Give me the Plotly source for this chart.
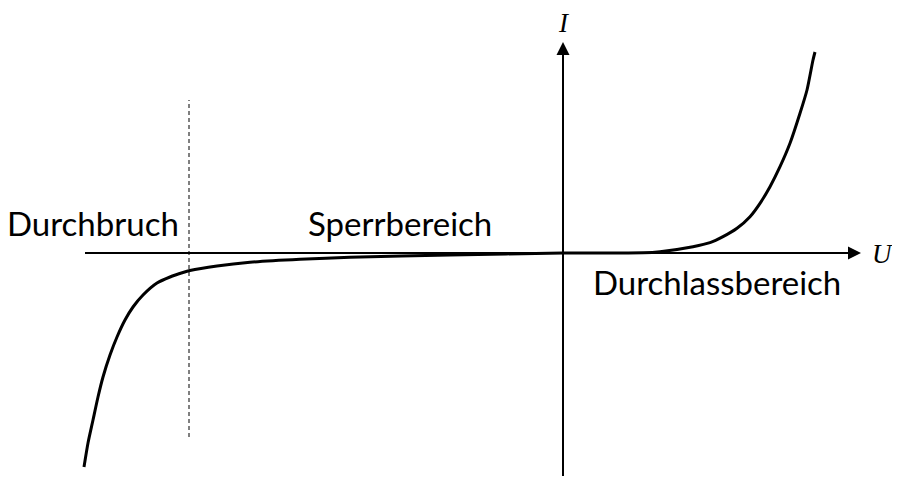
import plotly.graph_objects as go

# Diode characteristic (U and I in arbitrary units)
U_vals = [-4.79, -4.75, -4.70, -4.65, -4.60, -4.53, -4.46, -4.38, -4.30, -4.20, -4.06, -3.93, -3.80,
          -3.73, -3.46, -3.13, -2.63, -2.13, -1.13, 0.0,
          0.80, 0.97, 1.30, 1.47, 1.60, 1.74, 1.87, 1.97, 2.07, 2.17, 2.27, 2.37, 2.44, 2.50, 2.52]
I_vals = [-2.14, -1.90, -1.67, -1.44, -1.24, -1.02, -0.84, -0.67, -0.54, -0.42, -0.30, -0.24, -0.195,
          -0.175, -0.13, -0.093, -0.063, -0.043, -0.02, 0.0,
          0.002, 0.013, 0.063, 0.103, 0.163, 0.247, 0.363, 0.497, 0.663, 0.863, 1.097, 1.397, 1.63, 1.93, 2.01]

breakdown_U = -3.74
breakdown_I_range = [-1.84, 1.53]

region_labels = ["Durchbruch", "Sperrbereich", "Durchlassbereich"]
region_U = [-4.70, -1.63, 1.54]
region_I = [0.30, 0.30, -0.29]

fig = go.Figure()

# dashed breakdown line
fig.add_trace(go.Scatter(x=[breakdown_U, breakdown_U], y=breakdown_I_range, mode="lines",
                         line=dict(color="black", width=1, dash="4px,3px"), hoverinfo="skip"))

# axes lines
fig.add_trace(go.Scatter(x=[-4.78, 2.88], y=[0, 0], mode="lines",
                         line=dict(color="black", width=2), hoverinfo="skip"))
fig.add_trace(go.Scatter(x=[0, 0], y=[-2.25, 2.0], mode="lines",
                         line=dict(color="black", width=2), hoverinfo="skip"))

# curve
fig.add_trace(go.Scatter(x=U_vals, y=I_vals, mode="lines",
                         line=dict(color="black", width=3, shape="spline", smoothing=0.6),
                         hoverinfo="skip"))

# arrow heads
fig.add_annotation(x=2.98, y=0, ax=2.82, ay=0, xref="x", yref="y", axref="x", ayref="y",
                   showarrow=True, arrowhead=2, arrowsize=1.3, arrowwidth=2, arrowcolor="black", text="")
fig.add_annotation(x=0, y=2.11, ax=0, ay=1.95, xref="x", yref="y", axref="x", ayref="y",
                   showarrow=True, arrowhead=2, arrowsize=1.3, arrowwidth=2, arrowcolor="black", text="")

# axis labels
fig.add_annotation(x=3.19, y=-0.01, text="<i>U</i>", showarrow=False, borderpad=0,
                   font=dict(family="Liberation Serif", size=27, color="black"))
fig.add_annotation(x=0.01, y=2.30, text="<i>I</i>", showarrow=False, borderpad=0,
                   font=dict(family="Liberation Serif", size=27, color="black"))

for t, u, i in zip(region_labels, region_U, region_I):
    fig.add_annotation(x=u, y=i, text=t, showarrow=False, borderpad=0,
                       font=dict(family="Lato", size=33, color="black"))

# page body has an 8px margin; figure sized so the page does not scroll
fig.update_layout(
    width=892, height=468, margin=dict(l=0, r=0, t=0, b=0),
    paper_bgcolor="white", plot_bgcolor="white", showlegend=False,
    xaxis=dict(range=[-5.55, 3.37], visible=False, fixedrange=True),
    yaxis=dict(range=[-2.23, 2.45], visible=False, fixedrange=True),
)

fig.write_html("out.html")
